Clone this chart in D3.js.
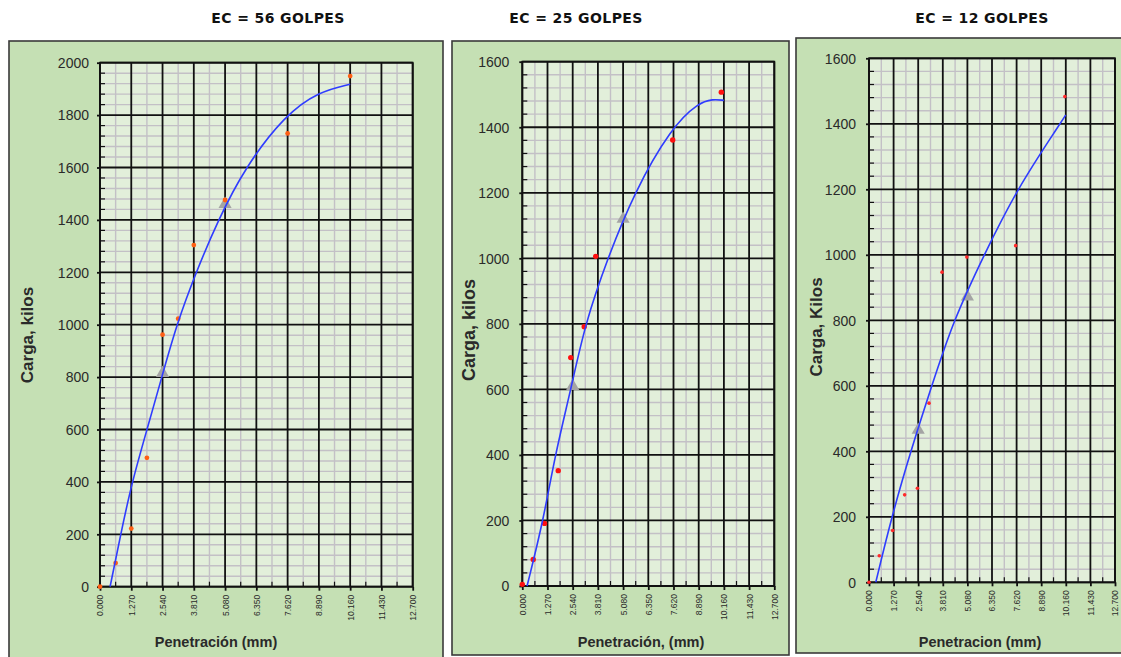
<!DOCTYPE html>
<html>
<head>
<meta charset="utf-8">
<script src="https://cdn.jsdelivr.net/npm/d3@7"></script>
<style>
  html, body { margin: 0; padding: 0; background: #ffffff; }
  svg { display: block; }
</style>
</head>
<body>
<svg id="chart" width="1121" height="657"></svg>
<script>
// ---- Shared axis definitions ----
const xTicks = [0, 1.27, 2.54, 3.81, 5.08, 6.35, 7.62, 8.89, 10.16, 11.43, 12.70];
const xTickLabels = ["0.000", "1.270", "2.540", "3.810", "5.080", "6.350", "7.620", "8.890", "10.160", "11.430", "12.700"];
const yTicks2000 = [0, 200, 400, 600, 800, 1000, 1200, 1400, 1600, 1800, 2000];
const yTicks1600 = [0, 200, 400, 600, 800, 1000, 1200, 1400, 1600];

// ---- EC = 56 golpes ----
const pen56  = [0, 0.635, 1.27, 1.905, 2.54, 3.175, 3.81, 5.08, 7.62, 10.16];
const load56 = [0, 90, 222, 492, 962, 1023, 1304, 1476, 1730, 1949];
const fitPen56  = [0.41, 0.84, 1.30, 1.91, 2.54, 3.11, 3.90, 4.80, 5.89, 7.51, 8.89, 10.16];
const fitLoad56 = [0, 200, 400, 600, 810, 1000, 1200, 1400, 1600, 1800, 1890, 1918];
const refPen56  = [2.54, 5.08];
const refLoad56 = [815, 1460];

// ---- EC = 25 golpes ----
const pen25  = [0, 0.55, 1.12, 1.81, 2.44, 3.12, 3.70, 7.58, 10.03];
const load25 = [5, 81, 191, 352, 697, 791, 1006, 1361, 1507];
const fitPen25  = [0.24, 1.06, 1.65, 2.45, 3.16, 4.30, 5.63, 7.52, 8.89, 9.60, 10.16];
const fitLoad25 = [0, 200, 400, 600, 800, 1000, 1200, 1400, 1475, 1486, 1482];
const refPen25  = [2.54, 5.08];
const refLoad25 = [610, 1120];

// ---- EC = 12 golpes ----
const pen12  = [0, 0.53, 1.22, 1.84, 2.50, 3.10, 3.77, 5.05, 7.57, 10.11];
const load12 = [0, 81, 158, 267, 287, 547, 947, 993, 1028, 1483];
const fitPen12  = [0.35, 1.17, 2.15, 3.24, 4.36, 5.94, 7.63, 9.86, 10.16];
const fitLoad12 = [0, 200, 400, 600, 800, 1000, 1200, 1400, 1427];
const refPen12  = [2.54, 5.08];
const refLoad12 = [465, 872];

const panels = [
  {
    title: "EC = 56 GOLPES", titleX: 278,
    frame: { x0: 9, y0: 41, x1: 443, y1: 662 },
    plot: { x0: 100, y0: 62.7, x1: 412.7, y1: 586.7 },
    yMax: 2000, yTicks: yTicks2000, labelGap: 8,
    yTitle: "Carga, kilos", yTitleX: 27, yTitleY: 335, yTitleSize: 17,
    xTitle: "Penetración (mm)", xTitleX: 216,
    pen: pen56, load: load56, fitPen: fitPen56, fitLoad: fitLoad56,
    refPen: refPen56, refLoad: refLoad56,
    dotColor: "#ff5f14", dotR: 2.4
  },
  {
    title: "EC = 25 GOLPES", titleX: 576,
    frame: { x0: 452, y0: 41, x1: 789, y1: 655 },
    plot: { x0: 522.3, y0: 61.7, x1: 774.3, y1: 586 },
    yMax: 1600, yTicks: yTicks1600, labelGap: 10,
    yTitle: "Carga, kilos", yTitleX: 469, yTitleY: 330, yTitleSize: 18,
    xTitle: "Penetración, (mm)", xTitleX: 641,
    pen: pen25, load: load25, fitPen: fitPen25, fitLoad: fitLoad25,
    refPen: refPen25, refLoad: refLoad25,
    dotColor: "#ff1010", dotR: 2.7
  },
  {
    title: "EC = 12 GOLPES", titleX: 982,
    frame: { x0: 796, y0: 38, x1: 1124, y1: 653 },
    plot: { x0: 869, y0: 58.3, x1: 1115, y1: 582.3 },
    yMax: 1600, yTicks: yTicks1600, labelGap: 10,
    yTitle: "Carga, Kilos", yTitleX: 816, yTitleY: 327, yTitleSize: 17,
    xTitle: "Penetracion (mm)", xTitleX: 980,
    pen: pen12, load: load12, fitPen: fitPen12, fitLoad: fitLoad12,
    refPen: refPen12, refLoad: refLoad12,
    dotColor: "#ff2a2a", dotR: 1.8
  }
];

const svg = d3.select("#chart");
const FONT = "'Liberation Sans', Arial, Helvetica, sans-serif";

function drawPanel(p) {
  const g = svg.append("g");

  // outer green chart area with dark border
  g.append("rect")
    .attr("x", p.frame.x0).attr("y", p.frame.y0)
    .attr("width", p.frame.x1 - p.frame.x0).attr("height", p.frame.y1 - p.frame.y0)
    .attr("fill", "#c5e0b4").attr("stroke", "#3a3a3a").attr("stroke-width", 1.6);

  // title above the frame
  svg.append("text")
    .attr("x", p.titleX).attr("y", 22.5)
    .attr("text-anchor", "middle")
    .attr("font-family", "'DejaVu Sans', Verdana, sans-serif")
    .attr("font-weight", "bold").attr("font-size", 14)
    .attr("letter-spacing", 0.4)
    .attr("fill", "#111")
    .text(p.title);

  const x = d3.scaleLinear().domain([0, 12.7]).range([p.plot.x0, p.plot.x1]);
  const y = d3.scaleLinear().domain([0, p.yMax]).range([p.plot.y1, p.plot.y0]);

  // plot background
  g.append("rect")
    .attr("x", p.plot.x0).attr("y", p.plot.y0)
    .attr("width", p.plot.x1 - p.plot.x0).attr("height", p.plot.y1 - p.plot.y0)
    .attr("fill", "#e2efda");

  // minor grid: halfway between penetration ticks, every 40 kg in load
  const xMinor = xTicks.slice(1).map((t, i) => (t + xTicks[i]) / 2);
  const yMinor = [];
  p.yTicks.slice(1).forEach((t, i) => {
    const a = p.yTicks[i];
    for (let k = 1; k < 5; k++) yMinor.push(a + (t - a) * k / 5);
  });

  const grid = g.append("g");
  grid.selectAll(".vminor").data(xMinor).join("line")
    .attr("x1", d => x(d)).attr("x2", d => x(d))
    .attr("y1", p.plot.y0).attr("y2", p.plot.y1)
    .attr("stroke", "#c3c0c6").attr("stroke-width", 1.4);
  grid.selectAll(".hminor").data(yMinor).join("line")
    .attr("x1", p.plot.x0).attr("x2", p.plot.x1)
    .attr("y1", d => y(d)).attr("y2", d => y(d))
    .attr("stroke", "#c3c0c6").attr("stroke-width", 1.4);
  grid.selectAll(".vmajor").data(xTicks).join("line")
    .attr("x1", d => x(d)).attr("x2", d => x(d))
    .attr("y1", p.plot.y0).attr("y2", p.plot.y1)
    .attr("stroke", "#111").attr("stroke-width", 1.8);
  grid.selectAll(".hmajor").data(p.yTicks).join("line")
    .attr("x1", p.plot.x0).attr("x2", p.plot.x1)
    .attr("y1", d => y(d)).attr("y2", d => y(d))
    .attr("stroke", "#111").attr("stroke-width", 1.8);

  // small inner ticks on the axes
  grid.selectAll(".ytick-minor").data(yMinor).join("line")
    .attr("x1", p.plot.x0).attr("x2", p.plot.x0 + 5)
    .attr("y1", d => y(d)).attr("y2", d => y(d))
    .attr("stroke", "#111").attr("stroke-width", 1.2);
  grid.selectAll(".xtick-minor").data(xMinor).join("line")
    .attr("x1", d => x(d)).attr("x2", d => x(d))
    .attr("y1", p.plot.y1).attr("y2", p.plot.y1 - 5)
    .attr("stroke", "#111").attr("stroke-width", 1.2);

  // plot border
  g.append("rect")
    .attr("x", p.plot.x0).attr("y", p.plot.y0)
    .attr("width", p.plot.x1 - p.plot.x0).attr("height", p.plot.y1 - p.plot.y0)
    .attr("fill", "none").attr("stroke", "#111").attr("stroke-width", 1.8);

  // y axis labels
  const yAxis = d3.axisLeft(y).tickValues(p.yTicks).tickSize(3)
    .tickPadding(p.labelGap).tickFormat(d3.format("d"));
  const ya = g.append("g").attr("transform", `translate(${p.plot.x0},0)`).call(yAxis);
  ya.select(".domain").remove();
  ya.selectAll(".tick line").attr("stroke", "#111").attr("stroke-width", 1.8);
  ya.selectAll("text")
    .attr("font-family", FONT).attr("font-size", 14)
    .attr("fill", "#2a2a2a").attr("dy", "0.34em");

  // x axis labels, rotated
  const xAxis = d3.axisBottom(x).tickValues(xTicks).tickSize(4)
    .tickFormat((d, i) => xTickLabels[i]);
  const xa = g.append("g").attr("transform", `translate(0,${p.plot.y1})`).call(xAxis);
  xa.select(".domain").remove();
  xa.selectAll(".tick line").attr("stroke", "#111").attr("stroke-width", 1.8);
  xa.selectAll("text")
    .attr("font-family", FONT).attr("font-size", 8.5)
    .attr("fill", "#2a2a2a")
    .attr("transform", "rotate(-90)")
    .attr("text-anchor", "end")
    .attr("x", -8).attr("y", 0).attr("dy", "0.35em");

  // axis titles
  g.append("text")
    .attr("transform", `translate(${p.yTitleX},${p.yTitleY}) rotate(-90)`)
    .attr("text-anchor", "middle").attr("dy", "0.35em")
    .attr("font-family", FONT).attr("font-weight", "bold")
    .attr("font-size", p.yTitleSize).attr("fill", "#2a2a2a")
    .text(p.yTitle);
  g.append("text")
    .attr("x", p.xTitleX).attr("y", 647)
    .attr("text-anchor", "middle")
    .attr("font-family", FONT).attr("font-weight", "bold")
    .attr("font-size", 14.5).attr("fill", "#2a2a2a")
    .text(p.xTitle);

  // reference points (2.54 and 5.08 mm)
  g.selectAll(".ref").data(p.refPen.map((d, i) => [d, p.refLoad[i]])).join("path")
    .attr("d", d3.symbol().type(d3.symbolTriangle).size(75))
    .attr("transform", d => `translate(${x(d[0])},${y(d[1])})`)
    .attr("fill", "#a4a4a4");

  // measured readings
  g.selectAll(".obs").data(p.pen.map((d, i) => [d, p.load[i]])).join("circle")
    .attr("cx", d => x(d[0])).attr("cy", d => y(d[1]))
    .attr("r", p.dotR).attr("fill", p.dotColor);

  // fitted curve, smoothed through the sampled readings
  const line = d3.line().x(d => x(d[0])).y(d => y(d[1])).curve(d3.curveBasis);
  g.append("path")
    .datum(p.fitPen.map((d, i) => [d, p.fitLoad[i]]))
    .attr("d", line)
    .attr("fill", "none").attr("stroke", "#2f3cff").attr("stroke-width", 1.6);
}

panels.forEach(drawPanel);
</script>
</body>
</html>
